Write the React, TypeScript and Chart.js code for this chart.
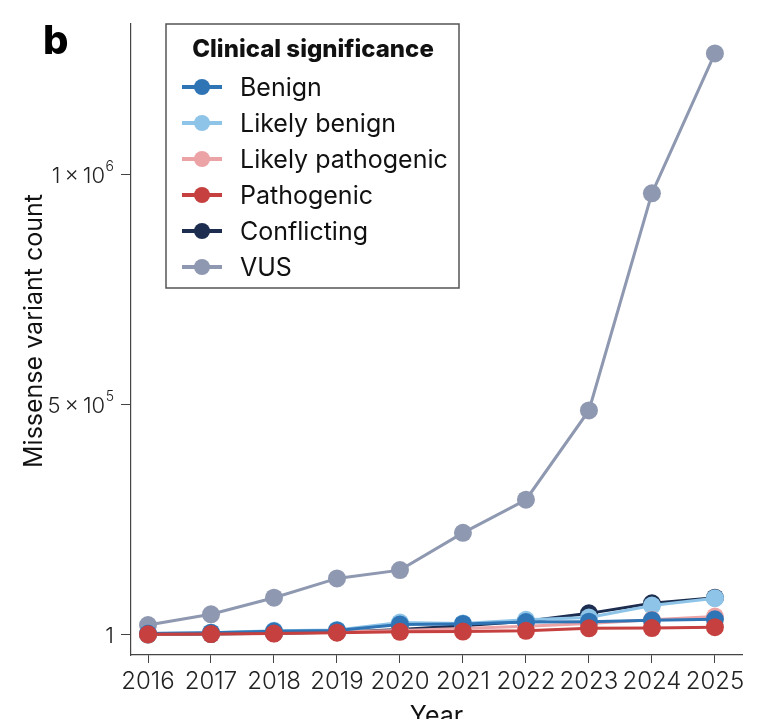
import React, { useEffect, useRef } from "react";
import { Chart, registerables } from "chart.js";

Chart.register(...registerables);

const years = [2016, 2017, 2018, 2019, 2020, 2021, 2022, 2023, 2024, 2025];
const benign = [3000, 5000, 8000, 10000, 23000, 24000, 28000, 29000, 32000, 34000];
const likelyBenign = [3000, 5000, 9000, 11000, 27000, 25000, 33000, 38000, 64000, 80000];
const likelyPathogenic = [1500, 3000, 5000, 7000, 10000, 14000, 19000, 25000, 33000, 40000];
const pathogenic = [1500, 2000, 3000, 5000, 7000, 7500, 9000, 14500, 15000, 17000];
const conflicting = [1000, 2000, 4000, 6000, 12000, 20000, 30000, 47000, 69000, 81000];
const vus = [21700, 45000, 81000, 123000, 141000, 222000, 294000, 488000, 960000, 1264000];

const seriesNames = ["Benign", "Likely benign", "Likely pathogenic", "Pathogenic", "Conflicting", "VUS"];
const seriesColors = ["#2f74b5", "#8ec4e8", "#eca3a6", "#c5403f", "#1c2d4f", "#8e98b0"];
const drawOrder = [1, 3, 2, 0, 4, 5];
const yTickValues = [1, 500000, 1000000];
// mantissa text and exponent (empty for plain labels)
const yTickBase = ["1", "5\u2009×\u200910", "1\u2009×\u200910"];
const yTickExp = ["", "5", "6"];
const yTitle = "Missense variant count";

const FONT = "Inter, 'Noto Sans', sans-serif";

const legendPlugin = {
  id: "customLegend",
  afterDraw(chart: any) {
    const ctx = chart.ctx as CanvasRenderingContext2D;
    ctx.save();
    // y tick labels with superscripts
    const ys = chart.scales.y;
    const right = 114;
    ctx.fillStyle = "#222";
    ctx.textBaseline = "middle";
    yTickValues.forEach((v, i) => {
      const py = ys.getPixelForValue(v);
      ctx.textAlign = "right";
      let xr = right;
      if (yTickExp[i]) {
        ctx.font = `300 14px ${FONT}`;
        ctx.fillText(yTickExp[i], xr, py - 8);
        xr -= ctx.measureText(yTickExp[i]).width + 0.5;
      }
      ctx.font = `300 22px ${FONT}`;
      ctx.fillText(yTickBase[i], xr, py + 1);
    });
    // y title
    ctx.save();
    ctx.translate(42, 331);
    ctx.rotate(-Math.PI / 2);
    ctx.textAlign = "center";
    ctx.textBaseline = "alphabetic";
    ctx.fillStyle = "#111";
    ctx.font = `400 25px ${FONT}`;
    ctx.fillText(yTitle, 0, 0);
    ctx.restore();

    // legend
    const x0 = 166, y0 = 24, w = 293, h = 264;
    ctx.fillStyle = "#ffffff";
    ctx.fillRect(x0, y0, w, h);
    ctx.strokeStyle = "#555555";
    ctx.lineWidth = 1.5;
    ctx.strokeRect(x0, y0, w, h);
    ctx.fillStyle = "#111111";
    ctx.font = `800 24px ${FONT}`;
    ctx.textAlign = "center";
    ctx.textBaseline = "middle";
    ctx.fillText("Clinical significance", 313, 50);
    ctx.font = `400 25px ${FONT}`;
    ctx.textAlign = "left";
    chart.data.datasets.forEach((ds: any, i: number) => {
      const cy = 87 + 36 * i;
      ctx.strokeStyle = ds.borderColor;
      ctx.lineWidth = 4;
      ctx.beginPath();
      ctx.moveTo(182, cy);
      ctx.lineTo(222, cy);
      ctx.stroke();
      ctx.fillStyle = ds.borderColor;
      ctx.beginPath();
      ctx.arc(202, cy, 8, 0, Math.PI * 2);
      ctx.fill();
      ctx.fillStyle = "#111111";
      ctx.fillText(ds.label, 240, cy + 1);
    });
    ctx.restore();
  },
};

export default function App() {
  const ref = useRef<HTMLCanvasElement | null>(null);

  useEffect(() => {
    if (!ref.current) return;
    const allSeries = [benign, likelyBenign, likelyPathogenic, pathogenic, conflicting, vus];
    const chart = new Chart(ref.current, {
      type: "line",
      data: {
        datasets: allSeries.map((vals, i) => ({
          label: seriesNames[i],
          data: years.map((yr, j) => ({ x: yr, y: vals[j] })),
          borderColor: seriesColors[i],
          backgroundColor: seriesColors[i],
          pointBackgroundColor: seriesColors[i],
          pointBorderColor: seriesColors[i],
          pointBorderWidth: 0,
          pointRadius: 9,
          borderWidth: 3,
          order: drawOrder[i],
          tension: 0,
        })),
      },
      options: {
        animation: false,
        responsive: true,
        maintainAspectRatio: false,
        layout: { padding: { top: 24, right: 19, left: 0, bottom: 0 } },
        plugins: {
          legend: { display: false },
          tooltip: { enabled: false },
        },
        scales: {
          x: {
            type: "linear",
            min: 2015.73,
            max: 2025.43,
            afterBuildTicks: (s: any) => {
              s.ticks = years.map((v) => ({ value: v }));
            },
            afterFit: (s: any) => {
              s.height = 90;
            },
            grid: {
              display: true,
              drawOnChartArea: false,
              drawTicks: true,
              tickLength: 8,
              color: "#444",
            },
            border: { display: true, color: "#444", width: 1.2 },
            ticks: {
              padding: 4,
              color: "#222",
              font: { family: FONT, size: 24, weight: 300 as any },
              callback: (v: any) => String(v),
              maxRotation: 0,
              autoSkip: false,
            },
            title: {
              display: true,
              text: "Year",
              color: "#111",
              font: { family: FONT, size: 25 },
              padding: { top: 0, bottom: 14 },
            },
          },
          y: {
            type: "linear",
            min: -43500,
            max: 1328000,
            afterBuildTicks: (s: any) => {
              s.ticks = yTickValues.map((v) => ({ value: v }));
            },
            afterFit: (s: any) => {
              s.width = 131;
            },
            grid: {
              display: true,
              drawOnChartArea: false,
              drawTicks: true,
              tickLength: 10,
              color: "#444",
            },
            border: { display: true, color: "#444", width: 1.2 },
            ticks: {
              display: false,
            },
            title: { display: false },
          },
        },
      },
      plugins: [legendPlugin],
    });
    return () => chart.destroy();
  }, []);

  return (
    <div style={{ position: "fixed", left: 0, top: 0, width: 761, height: 719, overflow: "hidden", background: "#fff" }}>
      <div style={{ position: "absolute", left: 0, top: 0, width: 761, height: 745 }}>
        <canvas ref={ref} />
      </div>
      <div
        style={{
          position: "absolute",
          left: 43,
          top: 18,
          fontFamily: FONT,
          fontWeight: 800,
          fontSize: 40,
          lineHeight: "44px",
          color: "#000",
        }}
      >
        b
      </div>
    </div>
  );
}
